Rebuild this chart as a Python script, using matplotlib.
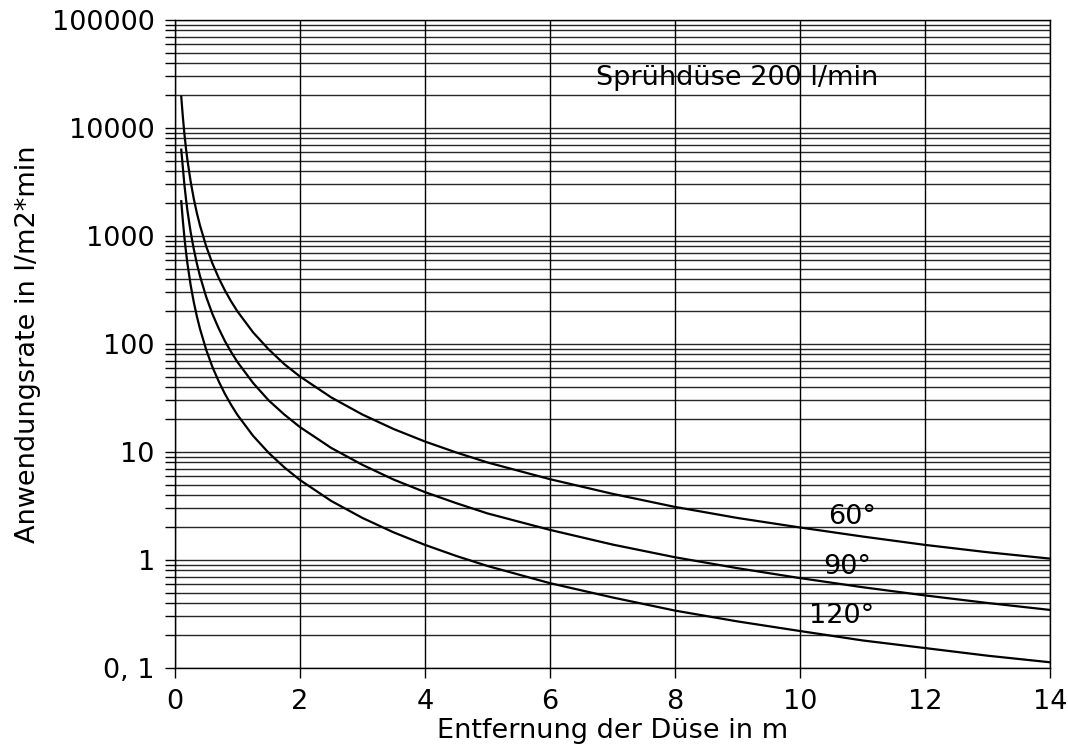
import numpy as np
import matplotlib
matplotlib.use("Agg")
import matplotlib.pyplot as plt
from matplotlib.ticker import LogLocator, FixedLocator, FixedFormatter, NullFormatter

#### values (distance in m, rate in l/m2*min)
dist = [0.1, 0.125, 0.15, 0.175, 0.2, 0.25, 0.3, 0.35, 0.4, 0.5, 0.6, 0.7, 0.8, 0.9,
        1, 1.25, 1.5, 1.75, 2, 2.5, 3, 3.5, 4, 4.5, 5, 6, 7, 8, 9, 10, 11, 12, 13, 14]

rate_60 = [19500, 12800, 8900, 6500, 5000, 3200, 2220, 1630, 1250, 800, 555, 408, 312, 247,
           200, 128, 89, 65, 50, 32, 22.2, 16.3, 12.5, 9.9, 8.0,
           5.6, 4.1, 3.1, 2.45, 2.0, 1.65, 1.38, 1.18, 1.03]
rate_90 = [6300, 4350, 3000, 2220, 1700, 1090, 760, 555, 425, 272, 189, 139, 106, 84,
           68, 43.5, 30, 22.2, 17, 10.9, 7.6, 5.55, 4.25, 3.36, 2.7,
           1.9, 1.39, 1.06, 0.84, 0.68, 0.56, 0.47, 0.40, 0.345]
rate_120 = [2100, 1400, 980, 720, 550, 352, 245, 180, 138, 88, 61, 45, 34.4, 27.2,
            22, 14.1, 9.8, 7.2, 5.5, 3.52, 2.45, 1.8, 1.38, 1.09, 0.88,
            0.61, 0.45, 0.34, 0.27, 0.22, 0.18, 0.153, 0.13, 0.113]

curve_labels = ["60°", "90°", "120°"]
label_pos = [(10.83, 2.5), (10.75, 0.86), (10.66, 0.30)]

x_ticks = [0, 2, 4, 6, 8, 10, 12, 14]
y_ticks = [0.1, 1, 10, 100, 1000, 10000, 100000]
y_ticklabels = ["0, 1", "1", "10", "100", "1000", "10000", "100000"]

#### plotting
fs = 19.5
fig = plt.figure(figsize=(10.68, 7.48), dpi=100)
ax = fig.add_axes([175 / 1068, 1 - 668 / 748, 875 / 1068, 648 / 748])

ax.set_yscale("log")
ax.set_xlim(0, 14)
ax.set_ylim(0.1, 100000)

## grid: horizontal at every log step, vertical every 2 m
ax.yaxis.set_major_locator(FixedLocator(y_ticks))
ax.yaxis.set_major_formatter(FixedFormatter(y_ticklabels))
ax.yaxis.set_minor_locator(LogLocator(base=10, subs=np.arange(2, 10), numticks=20))
ax.yaxis.set_minor_formatter(NullFormatter())
ax.set_xticks(x_ticks)
ax.set_xticklabels([str(t) for t in x_ticks])

ax.grid(True, which="both", axis="y", color="black", linewidth=1.0, alpha=0.85)
ax.grid(True, which="major", axis="x", color="black", linewidth=1.0)

ax.tick_params(axis="y", which="both", direction="out", length=7.5, width=1.0,
               pad=7, labelsize=fs, color="black")
ax.tick_params(axis="x", which="major", direction="out", length=7, width=1.0,
               pad=8, labelsize=fs)
for s in ax.spines.values():
    s.set_linewidth(1.0)

for rate in (rate_60, rate_90, rate_120):
    ax.plot(dist, rate, color="black", linewidth=1.6)

for lab, (lx, ly) in zip(curve_labels, label_pos):
    ax.text(lx, ly, lab, fontsize=fs, ha="center", va="center")

ax.text(6.74, 28800, "Sprühdüse 200 l/min", fontsize=fs, ha="left", va="center")

ax.set_xlabel("Entfernung der Düse in m", fontsize=fs, labelpad=2)
ax.set_ylabel("Anwendungsrate in l/m2*min", fontsize=fs, labelpad=8)

plt.savefig("out.png", dpi=100)
